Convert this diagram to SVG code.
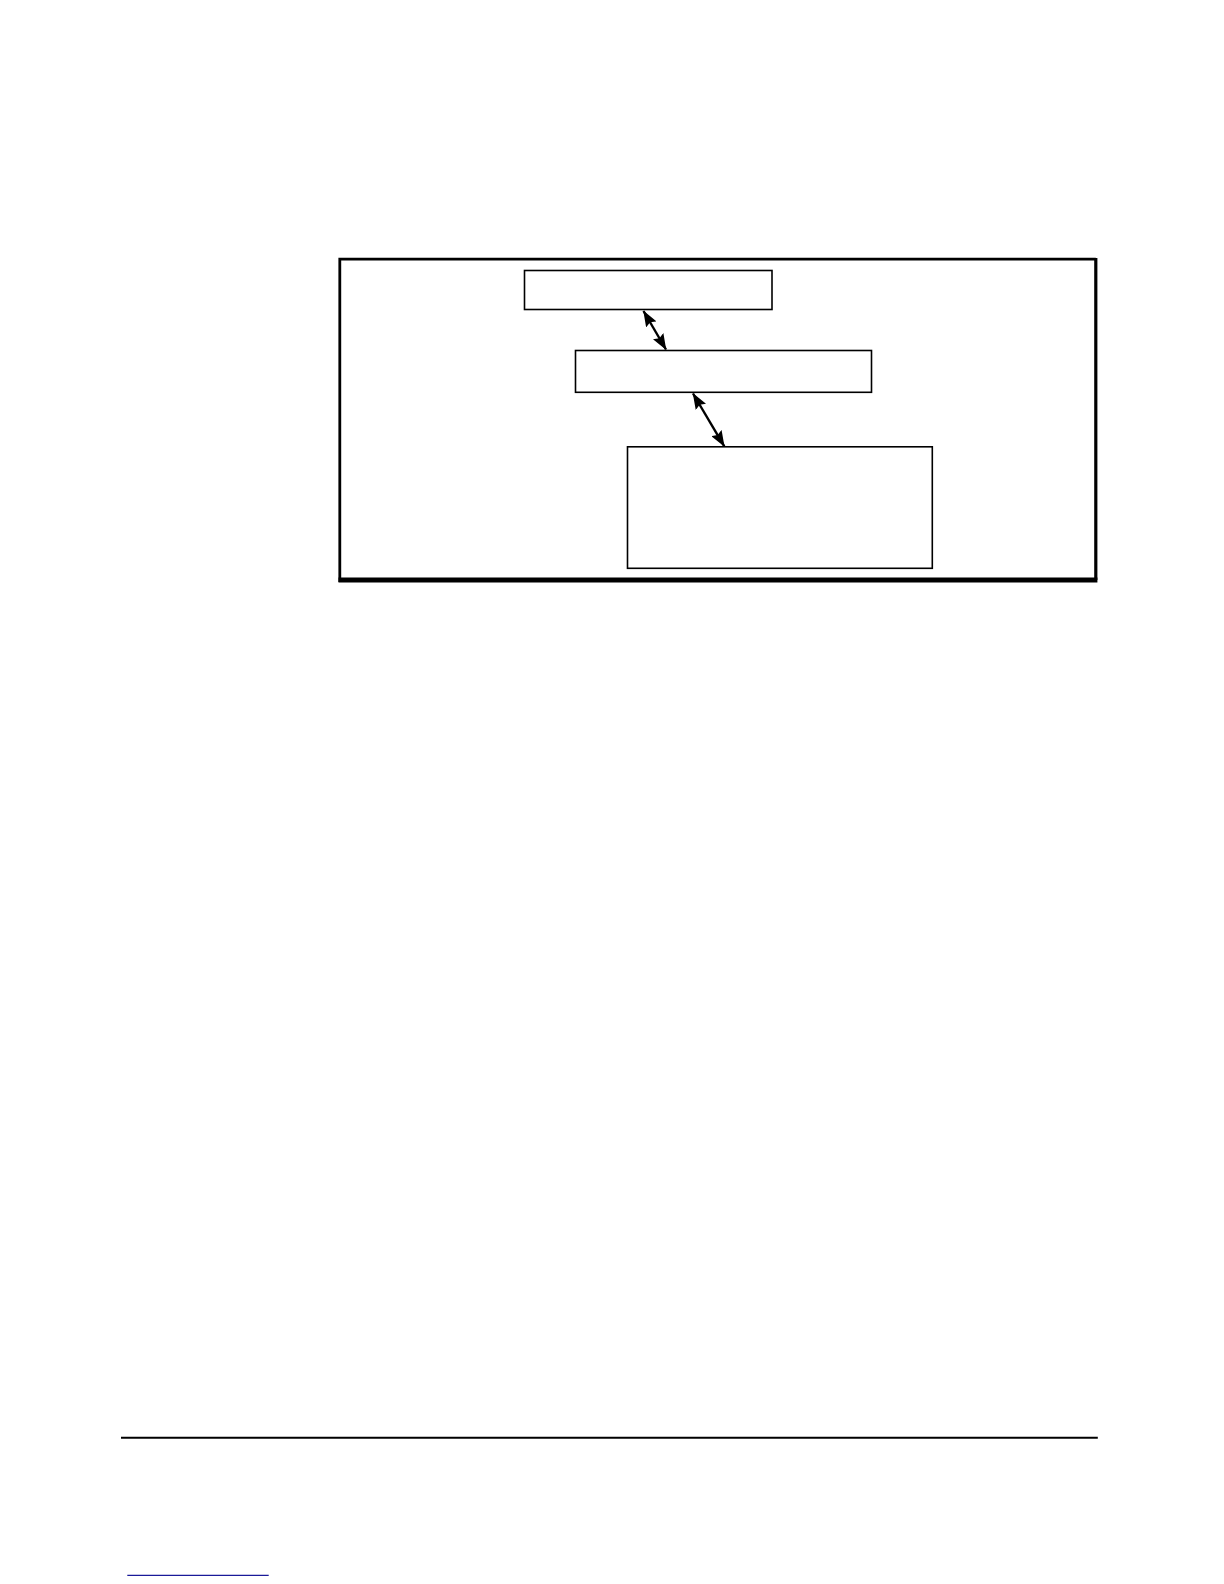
<svg xmlns="http://www.w3.org/2000/svg" width="1224" height="1584" viewBox="0 0 1224 1584">
<style>
.box{fill:#fff;stroke:#000;stroke-width:1.6}
.conn{stroke:#000;stroke-width:2.4;fill:none;marker-start:url(#ah);marker-end:url(#ah)}
</style>
<defs>
<marker id="ah" viewBox="0 0 16 12" refX="15.5" refY="6" markerWidth="16" markerHeight="12" markerUnits="userSpaceOnUse" orient="auto-start-reverse">
<path d="M0,0 L16,6 L0,12 L2.5,6 Z" fill="#000"/>
</marker>
</defs>
<rect width="1224" height="1584" fill="#fff"/>
<g id="frame">
<path d="M339.8,582 L339.8,259.2 L1095.8,259.2" fill="none" stroke="#000" stroke-width="2.8"/>
<path d="M1095.8,258 L1095.8,580" fill="none" stroke="#000" stroke-width="3.2"/>
<path d="M338.5,580 L1097.4,580" fill="none" stroke="#000" stroke-width="4.8"/>
</g>
<g id="node1"><rect class="box" x="524.5" y="270.5" width="247.5" height="39"/></g>
<g id="node2"><rect class="box" x="575.5" y="350.5" width="296" height="41.8"/></g>
<g id="node3"><rect class="box" x="627.5" y="446.8" width="304.8" height="121.5"/></g>
<g id="connectors">
<line class="conn" x1="643.5" y1="311" x2="666" y2="349.5"/>
<line class="conn" x1="693" y1="393.5" x2="724.3" y2="446.3"/>
</g>
<g id="footer">
<line x1="121" y1="1437.8" x2="1097.8" y2="1437.8" stroke="#000" stroke-width="2"/>
<line x1="127.3" y1="1575.3" x2="268.7" y2="1575.3" stroke="#1a1a99" stroke-width="1.2"/>
</g>
</svg>
